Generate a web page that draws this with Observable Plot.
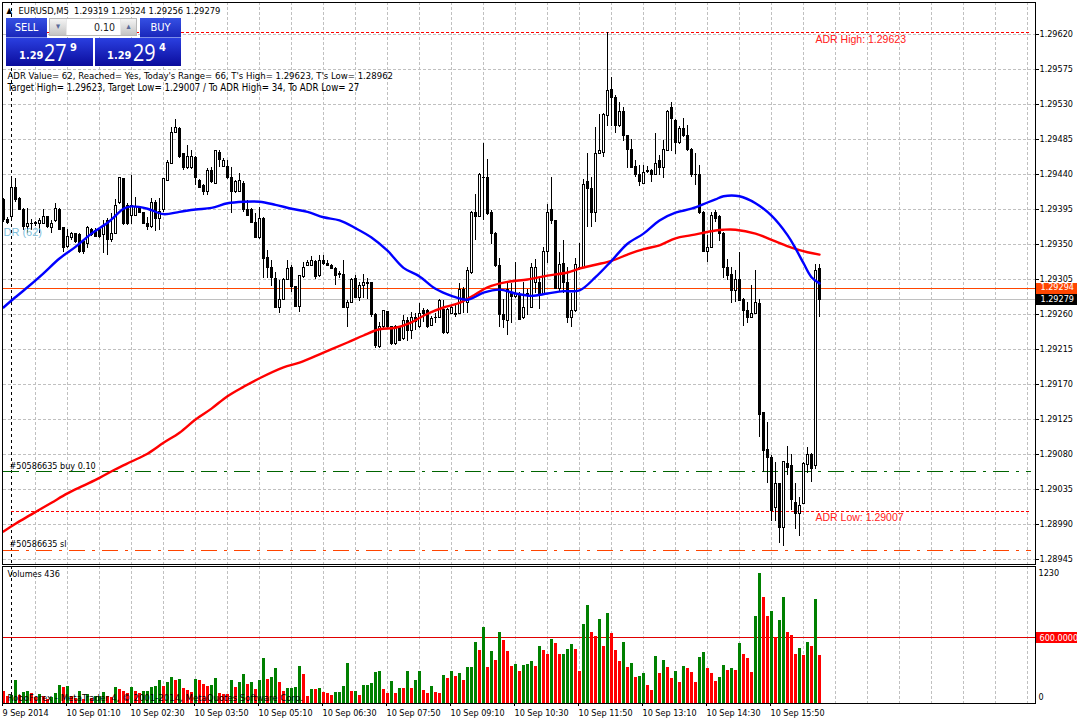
<!DOCTYPE html>
<html>
<head>
<meta charset="utf-8">
<script src="https://cdn.jsdelivr.net/npm/d3@7"></script>
<script src="https://cdn.jsdelivr.net/npm/@observablehq/plot@0.6"></script>
<style>
html,body{margin:0;padding:0;background:#fff;width:1077px;height:722px;overflow:hidden}
#wrap{position:relative;width:1077px;height:722px;font-family:"DejaVu Sans Condensed","DejaVu Sans",sans-serif;}
#wrap svg{display:block}
.w{position:absolute;color:#fff;white-space:nowrap;box-sizing:border-box}
.panel{background:linear-gradient(#2a3fe0,#0b0c9c)}
.btn{background:linear-gradient(#3550e4,#1a27bb);font-size:11px;text-align:center;line-height:19px;border-bottom:1px solid #7f8fe8}
.sm{font-size:11px;font-weight:bold}
.big{font-size:23px;font-family:"Open Sans","DejaVu Sans",sans-serif;font-weight:400;transform:scaleX(.86);transform-origin:left center}
</style>
</head>
<body>
<div id="wrap"></div>
<script>
// Prices are stored as 1/100000 above 1.00000 (29623 = 1.29623)
const opens=[29407,29382,29385,29423,29408,29394,29372,29377,29377,29377,
29377,29385,29371,29380,29395,29371,29347,29359,29363,29362,
29353,29351,29369,29368,29369,29362,29380,29356,29364,29403,
29434,29400,29387,29387,29396,29390,29377,29372,29404,29383,
29394,29432,29454,29494,29499,29466,29448,29448,29461,29432,
29425,29417,29445,29428,29468,29450,29450,29435,29417,29418,
29428,29394,29394,29378,29358,29383,29333,29320,29306,29269,
29279,29305,29320,29295,29270,29308,29323,29323,29328,29309,
29329,29325,29323,29319,29312,29311,29268,29275,29306,29281,
29297,29299,29300,29260,29218,29244,29263,29244,29222,29244,
29228,29252,29239,29256,29244,29264,29265,29245,29256,29256,
29266,29236,29261,29261,29261,29292,29275,29314,29391,29386,
29436,29436,29391,29364,29322,29260,29252,29287,29282,29284,
29255,29286,29269,29300,29301,29287,29340,29395,29380,29293,
29325,29300,29255,29264,29318,29320,29431,29422,29390,29467,
29468,29515,29549,29539,29502,29521,29489,29472,29450,29440,
29428,29444,29445,29440,29458,29449,29470,29525,29509,29480,
29499,29490,29472,29440,29440,29391,29341,29346,29390,29385,
29364,29320,29311,29290,29304,29279,29265,29256,29261,29274,
29133,29086,29075,29011,29042,28985,29068,29065,29018,29004,
29017,29067,29079,29065,29319];
const highs=[29409,29385,29436,29435,29410,29396,29396,29382,29379,29383,
29395,29386,29381,29403,29396,29372,29369,29365,29364,29364,
29355,29373,29371,29371,29372,29381,29383,29390,29408,29436,
29435,29403,29439,29410,29399,29391,29385,29409,29407,29409,
29435,29458,29500,29511,29500,29467,29477,29471,29463,29434,
29427,29448,29449,29471,29471,29461,29458,29449,29432,29441,
29431,29407,29396,29390,29397,29385,29342,29329,29314,29304,
29306,29329,29323,29296,29310,29327,29329,29335,29329,29336,
29336,29329,29324,29320,29315,29329,29278,29306,29310,29301,
29311,29306,29301,29261,29250,29265,29264,29245,29246,29245,
29259,29256,29263,29261,29274,29268,29266,29258,29261,29279,
29278,29268,29270,29274,29300,29295,29320,29392,29414,29441,
29480,29459,29394,29365,29332,29279,29301,29300,29327,29288,
29301,29292,29325,29331,29308,29346,29401,29436,29381,29340,
29355,29320,29287,29332,29351,29434,29467,29436,29500,29517,
29518,29623,29565,29542,29533,29526,29490,29485,29458,29452,
29452,29450,29446,29493,29464,29484,29522,29533,29511,29502,
29512,29503,29473,29467,29452,29392,29361,29391,29394,29387,
29365,29331,29320,29317,29340,29280,29275,29297,29316,29279,
29134,29121,29079,29070,29043,29071,29090,29080,29043,29025,
29070,29089,29081,29324,29324];
const lows=[29378,29376,29383,29404,29394,29368,29364,29368,29373,29364,
29376,29371,29364,29378,29368,29340,29345,29355,29351,29338,
29337,29345,29360,29359,29358,29338,29336,29353,29363,29401,
29375,29375,29376,29386,29390,29376,29368,29371,29367,29368,
29391,29431,29453,29493,29461,29445,29446,29446,29426,29422,
29413,29413,29428,29427,29449,29449,29434,29390,29416,29417,
29391,29386,29377,29358,29356,29306,29306,29296,29268,29261,
29278,29304,29288,29269,29262,29306,29322,29322,29305,29308,
29323,29322,29318,29297,29306,29268,29243,29274,29280,29277,
29281,29279,29256,29216,29216,29242,29242,29220,29220,29225,
29226,29225,29228,29239,29242,29250,29242,29244,29249,29255,
29234,29234,29260,29256,29260,29261,29261,29311,29355,29385,
29381,29387,29350,29320,29243,29242,29233,29249,29280,29252,
29254,29259,29268,29287,29266,29286,29326,29376,29292,29289,
29287,29249,29243,29263,29317,29319,29372,29372,29378,29466,
29462,29502,29502,29493,29500,29482,29448,29448,29436,29425,
29427,29441,29430,29439,29439,29435,29469,29470,29466,29479,
29488,29469,29436,29426,29389,29340,29327,29345,29378,29354,
29306,29304,29274,29275,29277,29245,29248,29255,29260,29102,
29057,29043,28994,28994,28966,28962,29053,29008,28983,28974,
29016,29055,29044,29061,29256];
const closes=[29381,29378,29423,29407,29395,29372,29377,29376,29378,29380,
29385,29372,29377,29396,29369,29346,29360,29363,29353,29341,
29340,29371,29362,29360,29360,29372,29356,29364,29400,29435,
29376,29376,29400,29398,29391,29377,29373,29404,29383,29392,
29434,29455,29494,29500,29462,29448,29462,29462,29435,29423,
29418,29445,29430,29470,29459,29458,29435,29417,29430,29432,
29394,29387,29378,29359,29383,29332,29320,29307,29269,29279,
29305,29319,29295,29270,29309,29320,29326,29329,29308,29329,
29325,29323,29319,29310,29311,29269,29275,29304,29281,29297,
29300,29300,29259,29220,29244,29264,29244,29222,29244,29226,
29252,29239,29256,29250,29261,29261,29244,29254,29255,29277,
29236,29266,29268,29259,29292,29278,29316,29391,29386,29440,
29435,29389,29364,29322,29259,29253,29291,29282,29287,29253,
29269,29285,29320,29320,29287,29340,29391,29380,29293,29324,
29300,29255,29264,29324,29320,29427,29422,29390,29467,29470,
29516,29548,29539,29502,29521,29489,29472,29449,29439,29430,
29442,29443,29440,29454,29449,29472,29521,29511,29480,29499,
29489,29471,29439,29439,29390,29341,29345,29387,29383,29364,
29320,29309,29290,29305,29278,29265,29256,29261,29275,29131,
29085,29075,29008,29042,28985,29070,29063,29021,29004,29014,
29068,29079,29062,29316,29279];
const volumes=[107,67,76,213,76,97,113,91,55,82,
67,37,52,91,167,149,158,61,46,107,
40,82,46,61,67,97,61,55,149,128,
107,91,149,107,91,108,110,149,158,213,
158,195,240,213,222,140,122,103,222,213,
177,158,167,231,94,85,84,213,149,195,
268,177,195,131,213,414,222,240,323,195,
113,140,141,149,341,268,67,131,130,140,
103,94,76,103,104,158,368,113,114,76,
167,168,186,286,295,131,94,204,94,140,
139,295,140,213,295,122,94,158,103,94,
259,231,295,250,277,213,332,333,560,487,
697,332,478,396,651,578,478,341,359,295,
350,359,387,341,524,487,451,587,551,451,
452,496,542,496,295,724,898,651,615,770,
524,825,642,487,387,560,332,368,240,250,
277,167,122,432,277,396,332,231,295,195,
341,323,286,195,423,469,323,277,204,240,
350,304,323,304,551,451,414,286,798,1187,
971,798,843,606,761,971,651,624,451,505,
441,560,524,953,436];
// Moving averages, read at sampled bars
const blueBars=[0,2,6,10,14,18,22,26,28,30,32,36,40,44,48,52,56,60,64,68,72,76,80,84,88,92,96,100,104,108,112,116,120,124,128,132,136,140,144,148,152,156,160,164,168,172,176,178,180,184,188,192,196,198,200,202,204];
const blueValues=[29269,29278,29295,29313,29332,29347,29364,29378,29387,29396,29399,29396,29389,29392,29395,29397,29403,29405,29405,29401,29396,29392,29385,29381,29371,29359,29342,29320,29309,29293,29284,29279,29288,29292,29287,29284,29287,29290,29291,29308,29329,29351,29364,29381,29391,29396,29404,29408,29412,29412,29403,29387,29362,29345,29326,29308,29300];
const redBars=[0,3,7,12,16,20,24,28,32,36,40,44,48,52,56,60,64,70,74,80,86,90,94,98,102,106,110,114,118,121,126,131,136,141,144,148,152,156,160,164,168,172,178,180,183,188,193,197,201,204];
const redValues=[28981,28991,29003,29018,29030,29040,29050,29061,29071,29081,29095,29108,29125,29139,29155,29167,29178,29192,29198,29211,29224,29233,29241,29243,29250,29261,29269,29275,29286,29295,29302,29305,29310,29314,29319,29324,29329,29337,29344,29349,29358,29362,29368,29369,29369,29364,29354,29346,29340,29337];
const priceTicks=[1.2962,1.29575,1.2953,1.29485,1.2944,1.29395,1.2935,1.29305,1.2926,1.29215,1.2917,1.29125,1.2908,1.29035,1.2899,1.28945];
const timeLabels=["9 Sep 2014","10 Sep 01:10","10 Sep 02:30","10 Sep 03:50","10 Sep 05:10","10 Sep 06:30","10 Sep 07:50","10 Sep 09:10","10 Sep 10:30","10 Sep 11:50","10 Sep 13:10","10 Sep 14:30","10 Sep 15:50"];
const barsAcross=258, gridStep=8, labelStep=16, sessionBar=2;
const adrHigh=1.29623, adrLow=1.29007, askPrice=1.29294, bidPrice=1.29279, orderPrice=1.29058, stopPrice=1.28957;
const volumeTop=1230, volumeLevel=600;
const headerLine="EURUSD,M5  1.29319 1.29324 1.29256 1.29279";
const infoLines=["ADR Value= 62, Reached= Yes, Today's Range= 66, T's High= 1.29623, T's Low= 1.28962","Target High= 1.29623, Target Low= 1.29007 / To ADR High= 34, To ADR Low= 27"];
const copyright="RoboForex - MetaTrader 4, © 2001-2014, MetaQuotes Software Corp.";

const price=v=>1+v/1e5;
const bars=opens.map((o,i)=>({i,open:price(o),high:price(highs[i]),low:price(lows[i]),close:price(closes[i])}));
const vols=volumes.map((v,i)=>({i,v,up:i>0&&v>volumes[i-1]}));
const gridBars=d3.range(gridStep,barsAcross+1,gridStep);
const font="'DejaVu Sans Condensed','DejaVu Sans',sans-serif";
const crisp={shapeRendering:"crispEdges"};
const gridStyle={stroke:"#c0c0c0",strokeOpacity:1,strokeDasharray:"3,2",...crisp};
const xScale={domain:[0,barsAcross],range:[3,1035]};
const halfBody=0.25;
const tagStart=barsAcross+0.25, tagEnd=barsAcross+10.5;

const note=(text,opts)=>Plot.text([text],{textAnchor:"start",lineAnchor:"middle",fontSize:9,fill:"black",frameAnchor:"top-left",...opts});
const barMarks=(data,fill)=>Plot.rect(data,{x1:d=>d.i-halfBody,x2:d=>d.i+halfBody,y1:"open",y2:"close",fill,stroke:"black",...crisp});

const pricePlot=Plot.plot({
  width:1077,height:565,marginLeft:2,marginRight:42,marginTop:2,marginBottom:1,
  style:{fontFamily:font,fontSize:"9px",background:"white",color:"black",overflow:"visible"},
  x:{...xScale,axis:null},
  y:{domain:[priceTicks[priceTicks.length-1],priceTicks[0]],range:[559,34],axis:null},
  marks:[
    Plot.gridY(priceTicks,{...gridStyle,x1:0,x2:barsAcross}),
    Plot.gridX(gridBars,gridStyle),
    Plot.ruleX([sessionBar],{stroke:"black",strokeDasharray:"3,3",...crisp}),
    Plot.ruleY([bidPrice],{stroke:"#c0c0c0",x1:0,x2:barsAcross,...crisp}),
    Plot.ruleY([askPrice],{stroke:"#ff4500",x1:0,x2:barsAcross,...crisp}),
    Plot.ruleY([adrHigh],{stroke:"#ff0000",strokeDasharray:"3,2",x1:sessionBar,x2:barsAcross-1,...crisp}),
    Plot.ruleY([adrLow],{stroke:"#ff0000",strokeDasharray:"3,2",x1:sessionBar,x2:barsAcross-1,...crisp}),
    Plot.ruleY([orderPrice],{stroke:"#006400",strokeDasharray:"16,7,3,7",x1:0,x2:barsAcross-1,...crisp}),
    Plot.ruleY([stopPrice],{stroke:"#ff4500",strokeDasharray:"16,7,3,7",x1:0,x2:barsAcross-1,...crisp}),
    Plot.ruleX(bars,{x:"i",y1:"low",y2:"high",stroke:"black",...crisp}),
    barMarks(bars.filter(d=>d.close>=d.open),"white"),
    barMarks(bars.filter(d=>d.close<d.open),"black"),
    Plot.line(redBars.map((b,k)=>({b,p:price(redValues[k])})),{x:"b",y:"p",stroke:"#ff0000",strokeWidth:2.4,curve:"catmull-rom"}),
    Plot.line(blueBars.map((b,k)=>({b,p:price(blueValues[k])})),{x:"b",y:"p",stroke:"#0000ff",strokeWidth:2.4,curve:"catmull-rom"}),
    Plot.axisY(priceTicks,{anchor:"right",label:null,tickSize:3,tickPadding:1,tickFormat:d3.format(".5f"),fontSize:9,fill:"black",stroke:"black"}),
    Plot.frame({stroke:"black",...crisp}),
    Plot.ruleY([askPrice],{x1:tagStart,x2:tagEnd,stroke:"#ff4500",strokeWidth:11,...crisp}),
    Plot.ruleY([bidPrice],{x1:tagStart,x2:tagEnd,stroke:"black",strokeWidth:11,...crisp}),
    Plot.text([askPrice],{y:d=>d,frameAnchor:"right",textAnchor:"start",dx:5,text:d3.format(".5f"),fill:"white",fontSize:9,dy:-0.5}),
    Plot.text([bidPrice],{y:d=>d,frameAnchor:"right",textAnchor:"start",dx:5,text:d3.format(".5f"),fill:"white",fontSize:9,dy:-0.5}),
    Plot.text([adrHigh],{x:203,y:d=>d,text:d=>"ADR High: "+d.toFixed(5),textAnchor:"start",fill:"#ff2020",fontSize:10.5,fontFamily:"'Liberation Sans',sans-serif",dy:7}),
    Plot.text([adrLow],{x:203,y:d=>d,text:d=>"ADR Low: "+d.toFixed(5),textAnchor:"start",fill:"#ff2020",fontSize:10.5,fontFamily:"'Liberation Sans',sans-serif",dy:6}),
    Plot.text([orderPrice],{x:sessionBar-0.5,y:d=>d,text:()=>"#50586635 buy 0.10",textAnchor:"start",fontSize:9,fill:"black",dy:-5.5}),
    Plot.text([stopPrice],{x:sessionBar-0.5,y:d=>d,text:()=>"#50586635 sl",textAnchor:"start",fontSize:9,fill:"black",dy:-6}),
    Plot.text([1.29365],{x:0,y:d=>d,text:()=>"DR (62)",textAnchor:"start",fontSize:11,fill:"#7fc0dc",fontFamily:"'Liberation Sans',sans-serif"}),
    note(headerLine,{dx:16,dy:8.5,fontSize:9.3}),
    note("▲",{dx:4,dy:8,fontSize:8}),
    note(infoLines[0],{dx:5,dy:73,fontSize:9.5}),
    note(infoLines[1],{dx:5,dy:85,fontSize:9.65})
  ]
});

const volumePlot=Plot.plot({
  width:1077,height:157,marginLeft:2,marginRight:42,marginTop:1,marginBottom:19,
  style:{fontFamily:font,fontSize:"9px",background:"white",color:"black",overflow:"visible"},
  x:{...xScale,axis:null},
  y:{domain:[0,volumeTop],range:[138,3.3],axis:null},
  marks:[
    Plot.gridX(gridBars,gridStyle),
    Plot.gridY([0],{...gridStyle,x1:0,x2:barsAcross}),
    Plot.ruleX([sessionBar],{stroke:"black",strokeDasharray:"3,3",...crisp}),
    Plot.ruleY([volumeLevel],{stroke:"#e00000",x1:0,x2:barsAcross,...crisp}),
    Plot.ruleX(vols,{x:"i",y1:0,y2:"v",stroke:d=>d.up?"#008000":"#ff0000",strokeWidth:3,...crisp}),
    Plot.frame({stroke:"black",...crisp}),
    Plot.axisX(d3.range(0,timeLabels.length*labelStep,labelStep),{anchor:"bottom",label:null,tickSize:3,tickPadding:3,textAnchor:"start",tickFormat:d=>timeLabels[d/labelStep],fontSize:9,fill:"black",stroke:"black",dx:-1}),
    Plot.ruleY([volumeLevel],{x1:tagStart,x2:tagEnd,stroke:"#ff0000",strokeWidth:11,...crisp}),
    Plot.text([volumeLevel],{y:d=>d,frameAnchor:"right",textAnchor:"start",dx:4,text:d=>d.toFixed(4),fill:"white",fontSize:9}),
    Plot.text([volumeTop],{y:d=>d,frameAnchor:"right",textAnchor:"start",dx:3,text:String,fontSize:9,fill:"black",dy:4}),
    Plot.text([0],{y:d=>d,frameAnchor:"right",textAnchor:"start",dx:3,text:String,fontSize:9,fill:"black",dy:-6}),
    note("Volumes "+volumes[volumes.length-1],{dx:5,dy:8}),
    note(copyright,{dx:5,dy:131,fontSize:9.5})
  ]
});

const wrap=document.getElementById("wrap");
wrap.append(pricePlot,volumePlot);

// One-click trading widget
const box=(cls,l,t,w,h,text,extra="")=>`<div class="w ${cls}" style="left:${l}px;top:${t}px;width:${w}px;height:${h}px;${extra}">${text}</div>`;
const widget=document.createElement("div");
widget.innerHTML=
 box("btn",6,18,41,20,"SELL")+
 box("btn",140,18,41,20,"BUY")+
 box("panel",6,38,87,28,"")+
 box("panel",95,38,86,28,"")+
 box("",49,18,88,18,"","background:#e8e8e8;border:1px solid #b8b8b8")+
 box("",50,19,16,16,"▾","background:linear-gradient(#f4f4f4,#c4c4c4);color:#5a6a9a;font-size:9px;text-align:center;line-height:15px")+
 box("",121,19,15,16,"▴","background:linear-gradient(#f4f4f4,#c4c4c4);color:#5a6a9a;font-size:9px;text-align:center;line-height:15px")+
 box("",67,19,53,16,"0.10","background:#fff;color:#222;font-size:10.5px;text-align:right;line-height:16px;padding-right:5px")+
 box("sm",19,49,22,14,"1.29","line-height:14px")+
 box("big",44,40,26,24,"27","line-height:24px")+
 box("sm",70,41,8,14,"9","line-height:14px")+
 box("sm",107,49,22,14,"1.29","line-height:14px")+
 box("big",133,40,26,24,"29","line-height:24px")+
 box("sm",159,41,8,14,"4","line-height:14px");
wrap.append(widget);
</script>
</body>
</html>
